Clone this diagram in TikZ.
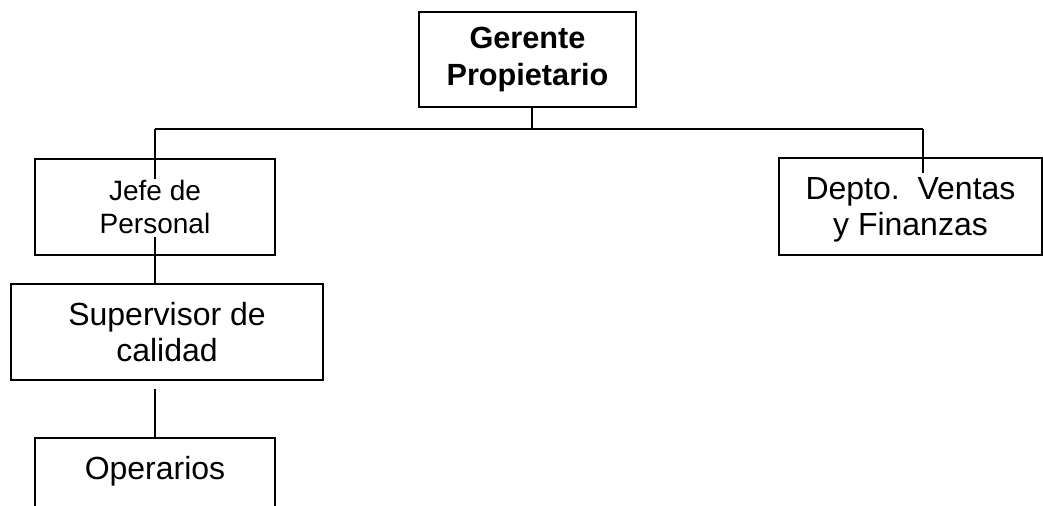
\documentclass[tikz,border=0pt]{standalone}
\usepackage{fontspec}
\setmainfont{Liberation Sans}
\begin{document}
\begin{tikzpicture}[x=0.75pt,y=-0.75pt,
  box/.style={draw,line width=1.2pt,inner sep=0pt,align=center},
  conn/.style={line width=1.1pt},
  small/.style={font=\fontsize{21}{24.3}\selectfont},
  big/.style={font=\fontsize{24}{27}\selectfont},
  head/.style={font=\fontsize{23}{27.75}\selectfont\bfseries}]
\useasboundingbox (0,0) rectangle (1043,506);
% boxes
\node[box,head,minimum width=162.75pt,minimum height=71.25pt] (ger) at (527.5,59.5) {Gerente\\Propietario};
\node[box,small,minimum width=180pt,minimum height=72pt] (jefe) at (155,207) {Jefe de\\Personal};
\node[box,big,minimum width=234pt,minimum height=72pt] (sup) at (167,332) {Supervisor de\\calidad};
\node[box,big,minimum width=197.25pt,minimum height=72.75pt] (dep) at (910.5,206.5) {};
\node[big,inner sep=0pt,align=center] (deptxt) at (910.5,210) {Depto.\ \ Ventas\\y Finanzas};
\node[big,inner sep=0pt] (op) at (155,471) {Operarios};
\draw[line width=1.2pt] (35,512) -- (35,438) coordinate (opl) -- (275,438) coordinate (opr) -- (275,512);
% connectors
\coordinate (gtap) at (532,129);
\coordinate (jtap) at (155,129);
\coordinate (dtap) at (923,129);
\coordinate (jin) at (155,179);
\coordinate (jout) at (155,237);
\coordinate (sout) at (155,389);
\coordinate (dend) at (923,173);
\draw[conn] (gtap |- ger.south) -- (gtap);
\draw[conn] (jtap) -- (dtap);
\draw[conn] (jtap) -- (jin);
\draw[conn] (dtap) -- (dend);
\draw[conn] (jout) -- (jout |- sup.north);
\draw[conn] (sout) -- (sout |- opl);
\end{tikzpicture}
\end{document}
